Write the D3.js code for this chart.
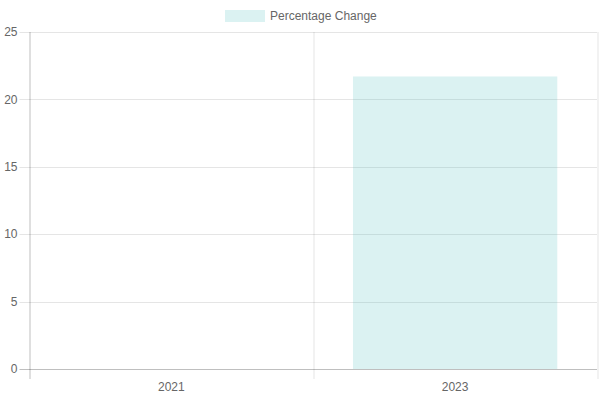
<!DOCTYPE html>
<html>
<head>
<meta charset="utf-8">
<script src="https://cdn.jsdelivr.net/npm/d3@7"></script>
<style>
  body { margin: 0; background: #fff; }
  text { font-family: "Liberation Sans", Helvetica, Arial, sans-serif; }
</style>
</head>
<body>
<div id="vis"></div>
<script>
const years = ["2021", "2023"];
const changes = [0, 21.7];
const yTicks = [0, 5, 10, 15, 20, 25];
const seriesName = "Percentage Change";

const W = 600, H = 400;
const margin = { top: 32, right: 3, bottom: 31, left: 29.5 };
const width = W - margin.left - margin.right,
    height = H - margin.top - margin.bottom;

const svg = d3.select("#vis")
    .append("svg")
    .attr("width", W)
    .attr("height", H);

const g = svg.append("g")
    .attr("transform", "translate(" + margin.left + "," + margin.top + ")");

const x = d3.scaleBand()
    .domain(years)
    .range([0, width]);

const y = d3.scaleLinear()
    .domain([0, 25])
    .range([height, 0]);

// horizontal grid lines (extend 10px left as tick marks)
g.selectAll(".hgrid")
    .data(yTicks)
    .enter()
    .append("line")
    .attr("x1", -10)
    .attr("x2", width)
    .attr("y1", d => Math.round(y(d)) + 0.5)
    .attr("y2", d => Math.round(y(d)) + 0.5)
    .attr("stroke", d => d === 0 ? "rgba(0,0,0,0.25)" : "rgba(0,0,0,0.1)")
    .attr("stroke-width", 1);

// vertical grid lines on category boundaries
const bounds = years.map(d => x(d)).concat([width]);
g.selectAll(".vgrid")
    .data(bounds)
    .enter()
    .append("line")
    .attr("x1", d => Math.round(d) + 0.5)
    .attr("x2", d => Math.round(d) + 0.5)
    .attr("y1", 0)
    .attr("y2", height + 10)
    .attr("stroke", (d, i) => i === 0 ? "rgba(0,0,0,0.25)" : "rgba(0,0,0,0.1)")
    .attr("stroke-width", 1);

// y labels
g.selectAll(".ylab")
    .data(yTicks)
    .enter()
    .append("text")
    .attr("x", -12)
    .attr("y", d => y(d))
    .attr("dy", "0.35em")
    .attr("text-anchor", "end")
    .attr("fill", "#666")
    .attr("font-size", 12)
    .text(d => d);

// x labels
g.selectAll(".xlab")
    .data(years)
    .enter()
    .append("text")
    .attr("x", d => x(d) + x.bandwidth() / 2)
    .attr("y", height + 22)
    .attr("text-anchor", "middle")
    .attr("fill", "#666")
    .attr("font-size", 12)
    .text(d => d);

// bars: 0.8 category * 0.9 bar
const barW = x.bandwidth() * 0.72;
g.selectAll(".bar")
    .data(years.map((d, i) => ({ year: d, value: changes[i] })))
    .enter()
    .append("rect")
    .attr("x", d => x(d.year) + (x.bandwidth() - barW) / 2)
    .attr("y", d => y(d.value))
    .attr("width", barW)
    .attr("height", d => height - y(d.value))
    .attr("fill", "rgba(75,192,192,0.2)");

// legend
const legend = svg.append("g");
legend.append("rect")
    .attr("x", 225)
    .attr("y", 10)
    .attr("width", 40)
    .attr("height", 12)
    .attr("fill", "rgba(75,192,192,0.2)");
legend.append("text")
    .attr("x", 270)
    .attr("y", 16)
    .attr("dy", "0.35em")
    .attr("fill", "#666")
    .attr("font-size", 12)
    .text(seriesName);
</script>
</body>
</html>
